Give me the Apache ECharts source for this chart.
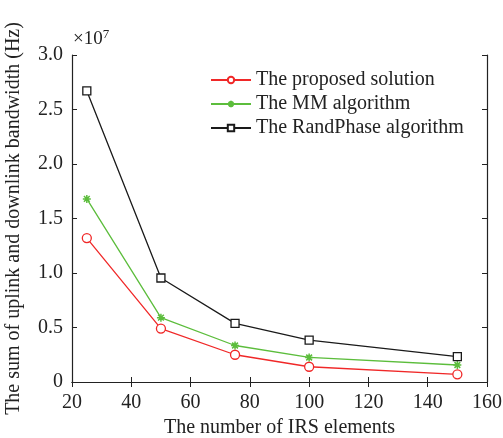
<!DOCTYPE html>
<html lang="en">
<head>
    <meta charset="utf-8" />
    <title>IRS bandwidth</title>
    <style>
        html, body { margin: 0; padding: 0; background: #fff; }
        #main { width: 503px; height: 438px; }
    </style>
</head>
<body>
    <div id="main"></div>
    <script src="https://cdn.jsdelivr.net/npm/echarts@6/dist/echarts.min.js"></script>
    <script>
    // x: number of IRS elements, y: values in units of 10^7 Hz
    var irsNum = [25, 50, 75, 100, 150];
    var proposed = [1.32, 0.49, 0.25, 0.14, 0.07];
    var mmAlg = [1.68, 0.59, 0.335, 0.225, 0.156];
    var randPhase = [2.67, 0.954, 0.538, 0.385, 0.232];
    var seriesNames = ["The proposed solution", "The MM algorithm", "The RandPhase algorithm"];

    var font = "Liberation Serif";
    var starPath = "path://M0,-5L0,5M-5,0L5,0M-3.6,-3.6L3.6,3.6M-3.6,3.6L3.6,-3.6";

    function pairs(ys) {
      var out = [];
      for (var i = 0; i < irsNum.length; i++) {
        out.push([irsNum[i], ys[i]]);
      }
      return out;
    }

    var myChart = echarts.init(document.getElementById("main"));
    var boxAxis = {
      axisLine: { show: true, lineStyle: { color: "#222", width: 1.2 } },
      axisTick: { show: true, inside: true, length: 5, lineStyle: { color: "#222" } },
      splitLine: { show: false }
    };
    var option = {
      animation: false,
      textStyle: { fontFamily: font },
      grid: { left: 72, right: 16, top: 55, bottom: 56, containLabel: false, outerBoundsMode: "none" },
      graphic: [{
        type: "text",
        left: 73,
        top: 28,
        style: {
          text: "×10{s|7}",
          font: "19px " + font,
          fill: "#222",
          rich: { s: { fontSize: 13, verticalAlign: "top", padding: [0, 0, 9, 0], fontFamily: font } }
        }
      }],
      legend: {
        orient: "vertical",
        left: 205,
        top: 65,
        itemWidth: 40,
        itemHeight: 8,
        itemGap: 4,
        textStyle: { fontFamily: font, fontSize: 20, color: "#222" },
        data: seriesNames
      },
      xAxis: [Object.assign({
        type: "value",
        min: 20,
        max: 160,
        interval: 20,
        name: "The number of IRS elements",
        nameLocation: "middle",
        nameGap: 34,
        nameTextStyle: { fontFamily: font, fontSize: 20, color: "#222" },
        axisLabel: { fontFamily: font, fontSize: 20, color: "#222", margin: 11 }
      }, boxAxis), Object.assign({
        type: "value",
        position: "top",
        min: 20,
        max: 160,
        interval: 20,
        axisLabel: { show: false }
      }, boxAxis)],
      yAxis: [Object.assign({
        type: "value",
        min: 0,
        max: 3,
        interval: 0.5,
        name: "The sum of uplink and downlink bandwidth (Hz)",
        nameLocation: "middle",
        nameGap: 48,
        nameTextStyle: { fontFamily: font, fontSize: 20, color: "#222" },
        axisLabel: {
          fontFamily: font, fontSize: 20, color: "#222", margin: 9,
          formatter: function(v) { return v === 0 ? "0" : v.toFixed(1); }
        }
      }, boxAxis), Object.assign({
        type: "value",
        position: "right",
        min: 0,
        max: 3,
        interval: 0.5,
        axisLabel: { show: false }
      }, boxAxis)],
      series: [{
        name: seriesNames[0],
        type: "line",
        data: pairs(proposed),
        symbol: "circle",
        symbolSize: 9,
        lineStyle: { color: "#f02828", width: 1.3 },
        itemStyle: { color: "#fff", borderColor: "#f02828", borderWidth: 1.3 }
      }, {
        name: seriesNames[1],
        type: "line",
        data: pairs(mmAlg),
        symbol: starPath,
        symbolSize: 8,
        lineStyle: { color: "#5cbd3c", width: 1.3 },
        itemStyle: { color: "#5cbd3c", borderColor: "#5cbd3c", borderWidth: 1.5 }
      }, {
        name: seriesNames[2],
        type: "line",
        data: pairs(randPhase),
        symbol: "rect",
        symbolSize: 8,
        lineStyle: { color: "#1a1a1a", width: 1.3 },
        itemStyle: { color: "#fff", borderColor: "#1a1a1a", borderWidth: 1.3 }
      }]
    };
    myChart.setOption(option);
    </script>
</body>
</html>
